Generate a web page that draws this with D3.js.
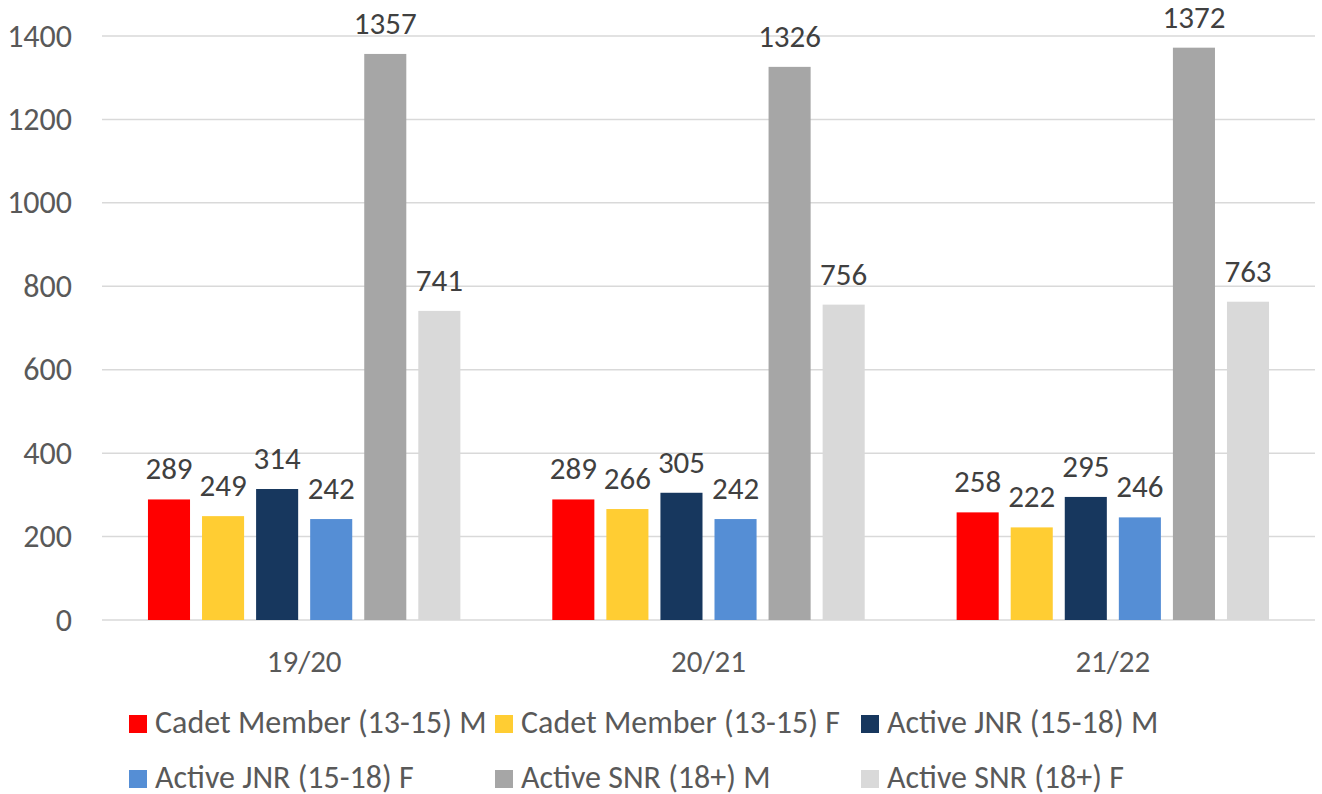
<!DOCTYPE html>
<html><head><meta charset="utf-8">
<script src="https://cdn.jsdelivr.net/npm/d3@7"></script>
<style>body{margin:0;background:#fff}svg{display:block}text{font-family:Carlito,Calibri,Lato,"Liberation Sans",sans-serif}</style>
</head><body>
<svg id="c" width="1322" height="794"></svg>
<script>
const categories = ["19/20", "20/21", "21/22"];
const seriesNames = ["Cadet Member (13-15) M","Cadet Member (13-15) F","Active JNR (15-18) M","Active JNR (15-18) F","Active SNR (18+) M","Active SNR (18+) F"];
const cadetM = [289, 289, 258];
const cadetF = [249, 266, 222];
const jnrM = [314, 305, 295];
const jnrF = [242, 242, 246];
const snrM = [1357, 1326, 1372];
const snrF = [741, 756, 763];
const colors = ["#FF0000","#FFCD33","#17375E","#558ED5","#A6A6A6","#D9D9D9"];
const yTicks = [0,200,400,600,800,1000,1200,1400];

const seriesValues = [cadetM, cadetF, jnrM, jnrF, snrM, snrF];
const svg = d3.select("#c");
const mLeft = 102, mRight = 1315, mTop = 36, mBottom = 620;
const x0 = d3.scaleBand().domain(categories).range([mLeft, mRight]).paddingInner(0).paddingOuter(0);
const x1 = d3.scaleBand().domain(d3.range(6)).range([0, x0.bandwidth()]).paddingInner(0.222).paddingOuter(0.85);
const y = d3.scaleLinear().domain([0, 1400]).range([mBottom, mTop]);

// gridlines
svg.append("g").selectAll("line").data(yTicks).join("line")
  .attr("x1", mLeft).attr("x2", mRight)
  .attr("y1", d => y(d)).attr("y2", d => y(d))
  .attr("stroke", "#D9D9D9").attr("stroke-width", 1.5);

// y labels
svg.append("g").selectAll("text").data(yTicks).join("text")
  .attr("x", 72).attr("y", d => y(d) + 10.5)
  .attr("text-anchor", "end").attr("font-size", 32).attr("fill", "#595959")
  .text(d => d);

// bars
const groups = svg.append("g").selectAll("g").data(categories).join("g")
  .attr("transform", d => `translate(${x0(d)},0)`);
groups.each(function(cat, ci) {
  const g = d3.select(this);
  const vals = seriesValues.map((s, si) => ({si, v: s[ci]}));
  g.selectAll("rect").data(vals).join("rect")
    .attr("x", d => x1(d.si)).attr("width", x1.bandwidth())
    .attr("y", d => y(d.v)).attr("height", d => y(0) - y(d.v))
    .attr("fill", d => colors[d.si]);
  g.selectAll("text").data(vals).join("text")
    .attr("x", d => x1(d.si) + x1.bandwidth() / 2)
    .attr("y", d => y(d.v) - 20)
    .attr("text-anchor", "middle").attr("font-size", 31).attr("fill", "#404040")
    .text(d => d.v);
});

// x labels
svg.append("g").selectAll("text").data(categories).join("text")
  .attr("x", d => x0(d) + x0.bandwidth() / 2).attr("y", 672)
  .attr("text-anchor", "middle").attr("font-size", 31).attr("fill", "#595959")
  .text(d => d);

// legend
const legX = [129, 495, 861];
const legY = [724, 779];
const leg = svg.append("g").selectAll("g").data(seriesNames).join("g")
  .attr("transform", (d, i) => `translate(${legX[i % 3]},${legY[Math.floor(i / 3)]})`);
leg.append("rect").attr("x", 0).attr("y", -9).attr("width", 18).attr("height", 18)
  .attr("fill", (d, i) => colors[i]);
leg.append("text").attr("x", 26).attr("y", 9)
  .attr("font-size", 32).attr("fill", "#595959").text(d => d);
</script>
</body></html>
